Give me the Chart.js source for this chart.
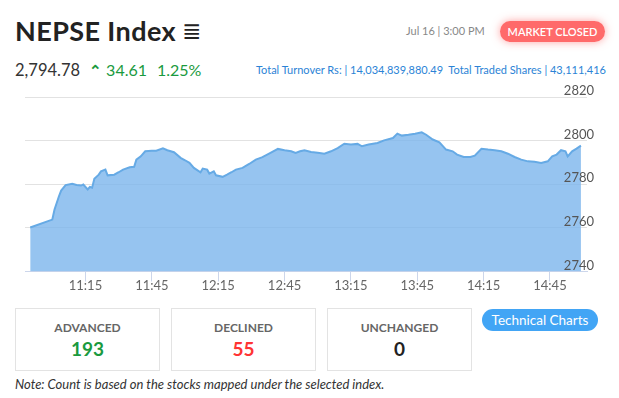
<!DOCTYPE html>
<html lang="en">
<head>
<meta charset="UTF-8">
<title>NEPSE Index</title>
<script src="https://cdn.jsdelivr.net/npm/chart.js"></script>
<style>
    body {
        margin: 0;
        width: 619px;
        height: 398px;
        position: relative;
        overflow: hidden;
        background: #fff;
        font-family: 'Source Sans Pro', Lato, sans-serif;
        color: #333;
    }
    .abs { position: absolute; white-space: nowrap; }
    .title { left: 15px; top: 14px; font-size: 27px; letter-spacing: 0.4px; font-weight: 700; color: #222; }
    .menu { left: 182px; top: 18px; font-size: 23px; font-family: 'DejaVu Sans', sans-serif; color: #222; }
    .date { left: 406px; top: 24px; font-size: 11px; color: #888; }
    .badge {
        left: 500px; top: 21px; width: 105px; height: 21px; line-height: 21px;
        background: #ff6a6a; color: #fff; font-size: 11px; font-weight: 600;
        border-radius: 11px; text-align: center;
        box-shadow: 0 0 8px rgba(255, 90, 90, 0.55);
    }
    .price { left: 15px; top: 60px; font-size: 16.5px; color: #333; }
    .change { left: 89px; top: 60px; font-size: 16px; color: #1a9a3e; }
    .change b { font-size: 15px; }
    .change span { margin-left: 10px; }
    .turnover { right: 13px; top: 63px; font-size: 11px; color: #2b83d6; }
    #chartBox { position: absolute; left: 0; top: 80px; }
    .box {
        position: absolute; top: 308px; width: 143px; height: 61px;
        border: 1px solid #e3e3e3; text-align: center;
    }
    .box .lbl { margin-top: 11px; font-size: 12px; font-weight: 700; color: #666; }
    .box .num { margin-top: 2px; font-size: 19px; font-weight: 700; }
    .tech {
        left: 482px; top: 309px; width: 116px; height: 22px; line-height: 22px;
        background: #42a5f5; color: #fff; font-size: 13.5px; border-radius: 11px; text-align: center;
    }
    .note { left: 15px; top: 376px; font-size: 13px; font-style: italic; color: #333; }
</style>
</head>
<body>
    <div class="abs title">NEPSE Index</div>
    <div class="abs menu">≣</div>
    <div class="abs date">Jul 16 | 3:00 PM</div>
    <div class="abs badge">MARKET CLOSED</div>

    <div class="abs price">2,794.78</div>
    <div class="abs change"><b>&#8963;</b> 34.61<span>1.25%</span></div>
    <div class="abs turnover">Total Turnover Rs: | 14,034,839,880.49 &nbsp;Total Traded Shares | 43,111,416</div>

    <div id="chartBox"><canvas id="indexChart" width="619" height="225"></canvas></div>

    <div class="box" style="left:15px"><div class="lbl">ADVANCED</div><div class="num" style="color:#1a9a3e">193</div></div>
    <div class="box" style="left:171px"><div class="lbl">DECLINED</div><div class="num" style="color:#ff3434">55</div></div>
    <div class="box" style="left:327px"><div class="lbl">UNCHANGED</div><div class="num" style="color:#222">0</div></div>
    <div class="abs tech">Technical Charts</div>
    <div class="abs note">Note: Count is based on the stocks mapped under the selected index.</div>

    <script>
        // время (ЧЧ:ММ) и значение индекса
        var times = ['10:50','11:00','11:01','11:03','11:04','11:06','11:09','11:11','11:13','11:14',
            '11:16','11:17','11:18','11:19','11:21','11:22','11:24','11:25','11:28','11:30',
            '11:32','11:35','11:37','11:38','11:40','11:42','11:45','11:47','11:50','11:52',
            '11:55','11:58','12:00','12:02','12:04','12:07','12:08','12:10','12:11','12:13',
            '12:14','12:17','12:19','12:21','12:23','12:26','12:29','12:32','12:35','12:38',
            '12:42','12:45','12:48','12:50','12:52','12:54','12:57','13:00','13:03','13:06',
            '13:09','13:12','13:15','13:18','13:20','13:23','13:27','13:30','13:34','13:36',
            '13:38','13:41','13:44','13:47','13:49','13:52','13:55','13:58','14:01','14:03',
            '14:06','14:09','14:11','14:14','14:17','14:20','14:23','14:26','14:29','14:32',
            '14:35','14:38','14:41','14:44','14:46','14:48','14:50','14:52','14:53','14:55',
            '14:57','14:59'];
        var values = [2760.2, 2763.8, 2768.4, 2774.5, 2777.1, 2779.6, 2780.2, 2779.7, 2779.4, 2779.9,
            2777.6, 2778.8, 2778.4, 2782.5, 2784.4, 2785.9, 2786.7, 2784.1, 2784.4, 2785.5,
            2786.7, 2787.8, 2788.0, 2791.3, 2792.8, 2795.1, 2795.4, 2795.4, 2796.5, 2795.6,
            2794.7, 2792.1, 2791.0, 2789.8, 2787.5, 2785.5, 2787.2, 2786.7, 2784.9, 2785.9,
            2784.1, 2783.4, 2784.4, 2785.5, 2786.7, 2787.5, 2789.3, 2791.3, 2792.4, 2794.0,
            2796.2, 2795.6, 2795.1, 2794.4, 2795.1, 2795.6, 2794.8, 2794.4, 2794.0, 2795.1,
            2796.6, 2798.6, 2798.2, 2798.5, 2797.4, 2798.2, 2798.9, 2800.1, 2801.2, 2803.2,
            2802.3, 2802.7, 2803.2, 2803.8, 2802.7, 2800.5, 2799.2, 2795.9, 2795.1, 2793.6,
            2792.5, 2792.5, 2793.1, 2796.3, 2795.9, 2795.6, 2795.1, 2794.0, 2792.5, 2791.3,
            2790.5, 2790.3, 2789.8, 2790.5, 2792.8, 2793.6, 2795.6, 2795.1, 2792.8, 2795.1,
            2796.3, 2797.7];
        var tickLabels = ['11:15','11:45','12:15','12:45','13:15','13:45','14:15','14:45'];
        var yTicks = [2740, 2760, 2780, 2800, 2820];

        function toMin(t) {
            var p = t.split(':');
            return +p[0] * 60 + +p[1];
        }
        function toLabel(m) {
            var mm = m % 60;
            return Math.floor(m / 60) + ':' + (mm < 10 ? '0' : '') + mm;
        }

        var points = times.map(function(t, i) {
            return { x: toMin(t), y: values[i] };
        });

        Chart.defaults.font.family = "'Source Sans Pro', Lato, sans-serif";

        new Chart(document.getElementById('indexChart'), {
            type: 'line',
            data: {
                datasets: [{
                    data: points,
                    borderColor: '#66aae5',
                    borderWidth: 2,
                    backgroundColor: 'rgba(124, 181, 236, 0.8)',
                    fill: 'origin',
                    pointRadius: 0,
                    tension: 0
                }]
            },
            options: {
                responsive: false,
                animation: false,
                devicePixelRatio: 1,
                layout: { padding: { left: 25, top: 17, right: 0, bottom: 0 } },
                plugins: { legend: { display: false }, tooltip: { enabled: false } },
                scales: {
                    x: {
                        type: 'linear',
                        min: 647.65,
                        max: 901.73,
                        afterFit: function(s) { s.height = 33.5; },
                        afterBuildTicks: function(s) {
                            s.ticks = tickLabels.map(function(t) { return { value: toMin(t) }; });
                        },
                        border: { color: '#ccd6eb' },
                        grid: { drawOnChartArea: false, tickLength: 10, tickColor: '#ccd6eb' },
                        ticks: {
                            color: '#666',
                            font: { size: 13 },
                            padding: -3,
                            maxRotation: 0,
                            callback: function(v) { return toLabel(v); }
                        }
                    },
                    y: {
                        position: 'right',
                        min: 2740,
                        max: 2820,
                        afterFit: function(s) { s.width = 32; },
                        afterBuildTicks: function(s) {
                            s.ticks = yTicks.map(function(v) { return { value: v }; });
                        },
                        border: { display: false },
                        grid: {
                            drawTicks: false,
                            color: function(ctx) {
                                return ctx.tick && ctx.tick.value === 2740 ? '#ccd6eb' : '#e2e2e2';
                            }
                        },
                        ticks: {
                            z: 1,
                            color: '#555',
                            font: { size: 13 },
                            mirror: true,
                            padding: 7,
                            labelOffset: -6,
                            callback: function(v) { return String(v); }
                        }
                    }
                }
            }
        });
    </script>
</body>
</html>
